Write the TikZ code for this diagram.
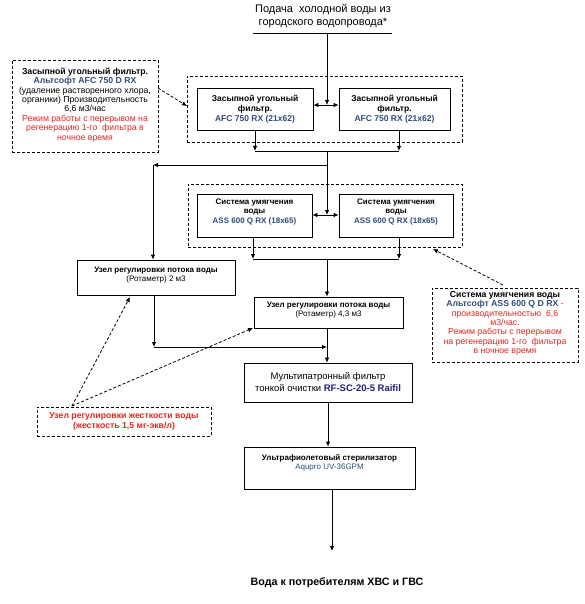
\documentclass[tikz,border=0pt]{standalone}
\usepackage{fontspec}
\setmainfont{Liberation Sans}
\usetikzlibrary{arrows.meta}
\definecolor{mblue}{HTML}{2E4D7B}
\definecolor{nblue}{HTML}{1F1F7A}
\definecolor{mred}{HTML}{E3261F}
\newcommand\myfs{\fontsize{8}{9.5}\selectfont}
\newcommand\mycf{\fontsize{8.5}{9.8}\selectfont}
\newcommand\mymf{\fontsize{9.5}{12}\selectfont}
\newcommand\mynf{\fontsize{8.7}{9.4}\selectfont}
\newcommand\mybig{\fontsize{11}{12.5}\selectfont}
\newcommand\mybot{\fontsize{10.7}{13}\selectfont}
\newcommand\xdep[1]{\rule[-#1pt]{0pt}{0pt}}
\tikzset{
  box/.style={draw, line width=0.8pt, align=center, inner sep=1pt, font=\myfs},
  grp/.style={draw, line width=0.8pt, dash pattern=on 3pt off 2pt, inner sep=0pt},
  note/.style={draw, line width=0.8pt, dash pattern=on 3pt off 2pt, align=center, inner sep=1pt, font=\mynf},
  tip/.style={-{Latex[length=5pt,width=4.5pt]}},
  arr/.style={tip, line width=0.8pt},
  darr/.style={{Latex[length=5pt,width=4.5pt]}-{Latex[length=5pt,width=4.5pt]}, line width=0.8pt},
  dasharr/.style={arr, dash pattern=on 3pt off 2pt},
  plain/.style={line width=0.8pt},
}
\begin{document}
\begin{tikzpicture}[x=1pt,y=-1pt]
\useasboundingbox[fill=white] (0,0) rectangle (584,604);

% source text
\node[align=center, font=\mybig, inner sep=0pt] (src) at (323,16) {Подача\ \ холодной воды из\\городского водопровода*};
\coordinate (ulL) at (253,33);
\coordinate (ulR) at (392,33);
\coordinate (inlet) at (327,33);
\draw[plain] (ulL) -- (ulR);

% group 1: carbon filters
\node[grp, minimum width=275pt, minimum height=66pt] (g1) at (324.5,109) {};
\node[box, font=\mycf, minimum width=116pt, minimum height=42pt] (c1) at (255,109) {\textbf{Засыпной угольный}\\\textbf{фильтр.}\\\textbf{\textcolor{mblue}{AFC 750 RX (21x62)}}};
\node[box, font=\mycf, minimum width=111pt, minimum height=42pt] (c2) at (394.5,109) {\textbf{Засыпной угольный}\\\textbf{фильтр.}\\\textbf{\textcolor{mblue}{AFC 750 RX (21x62)}}};
\coordinate (j1) at (327,105);
\draw[arr] (inlet) -- (j1);
\draw[darr] (c1.east |- j1) -- (c2.west |- j1);

% collect carbon outputs
\coordinate (c2o) at (399,130);
\coordinate (k1) at (255,151);
\coordinate (k2) at (399,151);
\coordinate (k0) at (327,151);
\draw[arr] (c1.south) -- (k1);
\draw[arr] (c2o) -- (k2);
\draw[plain] (k1) -- (k2);

% bypass branch
\coordinate (b0) at (327,165);
\coordinate (b1) at (153,165);
\draw[arr] (b0) -- (b1);

% group 2: softeners
\node[grp, minimum width=274pt, minimum height=63pt] (g2) at (325,215.5) {};
\node[box, minimum width=115pt, minimum height=43pt] (s1) at (254.5,215.5) {\textbf{Система умягчения}\\\textbf{воды}\\\textbf{\textcolor{mblue}{ASS 600 Q RX (18x65)}}\xdep{9}};
\node[box, minimum width=114pt, minimum height=43pt] (s2) at (396,215.5) {\textbf{Система умягчения}\\\textbf{воды}\\\textbf{\textcolor{mblue}{ASS 600 Q RX (18x65)}}\xdep{9}};
\coordinate (j2) at (327,215);
\draw[arr] (k0) -- (j2);
\draw[darr] (s1.east |- j2) -- (s2.west |- j2);

% rotameter 1
\node[box, minimum width=158pt, minimum height=35pt] (r1) at (156,277.5) {\textbf{Узел регулировки потока воды}\\(Ротаметр) 2 м3\xdep{7}};
\draw[arr] (b1) -- (r1.north -| b1);

% softener outputs
\coordinate (s1o) at (253,237);
\coordinate (s2o) at (399,237);
\coordinate (m1) at (253,259);
\coordinate (m2) at (399,259);
\coordinate (m0) at (327,259);
\draw[arr] (s1o) -- (m1);
\draw[arr] (s2o) -- (m2);
\draw[plain] (m1) -- (m2);

% rotameter 2
\node[box, minimum width=149pt, minimum height=31pt] (r2) at (328.5,312.5) {\textbf{Узел регулировки потока воды}\\(Ротаметр) 4,3 м3\xdep{7}};
\draw[arr] (m0) -- (r2.north -| m0);

% merge
\coordinate (r1o) at (154,295);
\coordinate (q1) at (154,347);
\coordinate (q2) at (327,347);
\draw[arr] (r1o) -- (q1);
\draw[arr] (q1) -- (q2);

% multi cartridge filter
\node[box, font=\mymf, minimum width=168pt, minimum height=39pt] (mf) at (328,382.5) {Мультипатронный фильтр\\тонкой очистки \textbf{\textcolor{nblue}{RF-SC-20-5 Raifil}}};
\draw[arr] (r2.south -| q2) -- (mf.north -| q2);

% UV sterilizer
\node[box, minimum width=171pt, minimum height=42pt] (uv) at (329.5,468) {\textbf{Ультрафиолетовый стерилизатор}\\\textcolor{mblue}{Aqupro UV-36GPM}\xdep{12}};
\coordinate (mfo) at (328,402);
\draw[arr] (mfo) -- (uv.north -| mfo);
\coordinate (uvo) at (332,489);
\coordinate (out) at (332,551);
\draw[arr] (uvo) -- (out);

\node[font=\mybot\bfseries, inner sep=0pt] (cons) at (337,583) {Вода к потребителям ХВС и ГВС};

% notes
\node[note, minimum width=146pt, minimum height=92pt] (n1) at (85,106) {\textbf{Засыпной угольный фильтр.}\\\textbf{\textcolor{mblue}{Альтсофт AFC 750 D RX}}\\(удаление растворенного хлора,\\органики) Производительность\\6,6 м3/час\\\textcolor{mred}{Режим работы с перерывом на}\\\textcolor{mred}{регенерацию 1-го\ \ фильтра в}\\\textcolor{mred}{ночное время}\xdep{4}};
\coordinate (n1s) at (158,88);
\coordinate (g1t) at (187,106);
\draw[dasharr] (n1s) -- (g1t);

\node[note, minimum width=146pt, minimum height=74pt] (n2) at (505,325) {\textbf{Система умягчения воды}\\\textbf{\textcolor{mblue}{Альтсофт ASS 600 Q D RX}} \textcolor{mred}{-}\\\textcolor{mred}{производительностью\ \ 6,6}\\\textcolor{mred}{м3/час.}\\\textcolor{mred}{Режим работы с перерывом}\\\textcolor{mred}{на регенерацию 1-го\ \ фильтра}\\\textcolor{mred}{в ночное время}\xdep{5}};
\coordinate (n2s) at (503,285);
\coordinate (g2t) at (433,249);
\draw[dasharr] (n2s) -- (g2t);

\node[note, minimum width=174pt, minimum height=29pt] (n3) at (124,421.5) {\textbf{\textcolor{mred}{Узел регулировки жесткости воды}}\\\textbf{\textcolor{mred}{(жесткость 1,5 мг-экв/л)}}};
\coordinate (n3s) at (72,406);
\coordinate (r1t) at (130,297);
\coordinate (r2t) at (253,328);
\draw[dasharr] (n3s) -- (r1t);
\draw[dasharr] (n3s) -- (r2t);
\end{tikzpicture}
\end{document}
